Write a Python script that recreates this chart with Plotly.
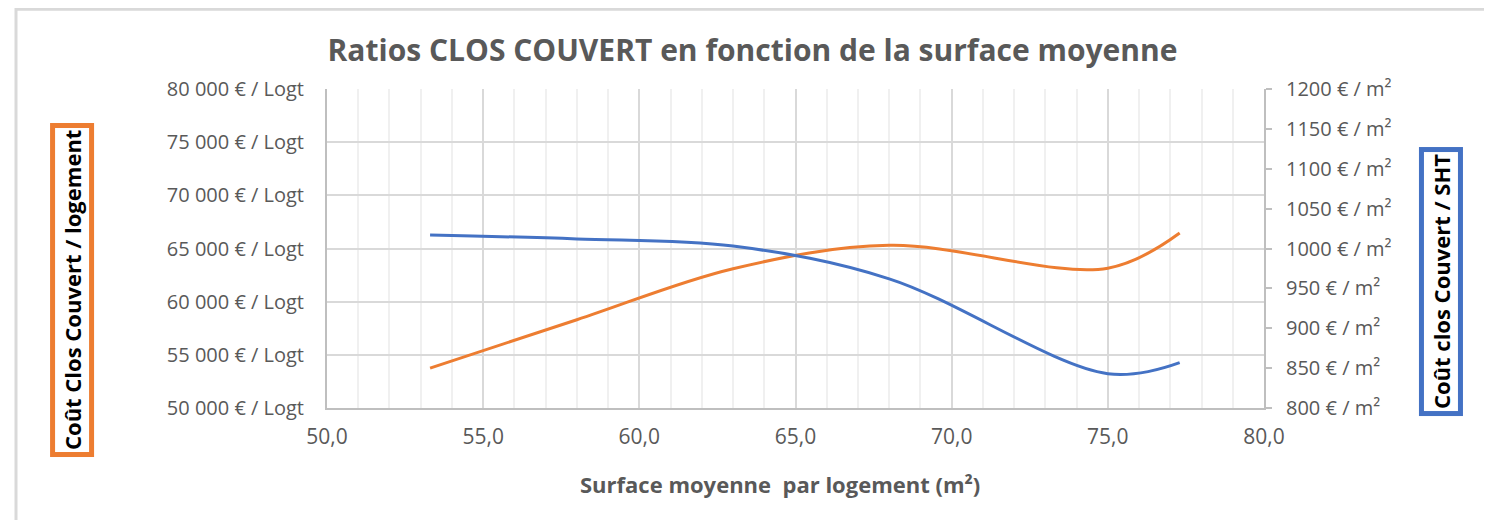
import plotly.graph_objects as go

# Surface moyenne par logement (m²)
surface = [53.3, 58.0, 63.0, 68.0, 75.0, 77.3]
# Coût clos couvert par logement (€ / logt) - axe gauche
cout_logt = [53750, 58300, 63100, 65300, 63150, 66450]
# Coût clos couvert par m² SHT (€ / m²) - axe droit
cout_m2 = [1017, 1012, 1003, 962, 843, 857]

ORANGE = "#ED7D31"
BLUE = "#4472C4"
GREY = "#595959"
GRID = "#D9D9D9"
FONT = "Open Sans"

fig = go.Figure()

fig.add_trace(go.Scatter(
    x=surface, y=cout_logt,
    mode="lines", line=dict(color=ORANGE, width=3, shape="spline", smoothing=1),
    name="Coût Clos Couvert / logement",
))
fig.add_trace(go.Scatter(
    x=surface, y=cout_m2, yaxis="y2",
    mode="lines", line=dict(color=BLUE, width=3, shape="spline", smoothing=1),
    name="Coût clos Couvert / SHT",
))

fig.update_layout(
    width=1492, height=520,
    margin=dict(l=319, r=236, t=81, b=120),
    paper_bgcolor="white", plot_bgcolor="white",
    showlegend=False,
    separators=", ",
    font=dict(family=FONT, color=GREY, size=20),
    title=dict(
        text="<b>Ratios CLOS COUVERT en fonction de la surface moyenne</b>",
        x=0.499, xanchor="center", y=0.919, yanchor="middle",
        font=dict(family=FONT, size=30, color=GREY),
    ),
    xaxis=dict(
        range=[50, 80], dtick=5, tickformat=".1f",
        tickfont=dict(size=21),
        showgrid=True, gridcolor=GRID, gridwidth=2,
        minor=dict(dtick=1, showgrid=True, gridcolor="#F0F0F0", gridwidth=2),
        showline=True, linecolor="#BFBFBF", linewidth=2,
        zeroline=False, ticks="", ticklabelstandoff=9,
    ),
    yaxis=dict(
        range=[50000, 80000], dtick=5000, tickformat=",d",
        ticksuffix=" € / Logt",
        showgrid=True, gridcolor=GRID, gridwidth=2,
        showline=True, linecolor="#BFBFBF", linewidth=2,
        zeroline=False, ticks="", ticklabelstandoff=17,
    ),
    yaxis2=dict(
        range=[800, 1200], dtick=50, tickformat="d",
        ticksuffix=" € / m²",
        overlaying="y", side="right",
        showgrid=False, showline=True, linecolor="#BFBFBF", linewidth=2,
        zeroline=False, ticks="outside", ticklen=6, tickcolor="#BFBFBF", tickwidth=2,
        ticklabelstandoff=10,
    ),
    shapes=[dict(
        type="rect", xref="paper", yref="paper",
        x0=-0.3319, x1=1.2401, y0=-0.5, y1=1.25,
        line=dict(color=GRID, width=3), layer="below",
    )],
    annotations=[
        dict(
            text="<b>Surface moyenne  par logement (m²)</b>",
            xref="paper", yref="paper", x=0.483, y=-0.238,
            xanchor="center", yanchor="middle", showarrow=False,
            font=dict(size=22, color=GREY),
        ),
        dict(
            text="<b>Coût Clos Couvert / logement</b>",
            xref="paper", yref="paper", x=-0.2721, y=0.37,
            xanchor="center", yanchor="middle",
            showarrow=False, textangle=-90,
            font=dict(size=22, color="black"),
            bordercolor=ORANGE, borderwidth=5, borderpad=2, bgcolor="white",
        ),
        dict(
            text="<b>Coût clos Couvert / SHT</b>",
            xref="paper", yref="paper", x=1.1889, y=0.398,
            xanchor="center", yanchor="middle",
            showarrow=False, textangle=-90,
            font=dict(size=22, color="black"),
            bordercolor=BLUE, borderwidth=5, borderpad=2, bgcolor="white",
        ),
    ],
)

fig.write_html("out.html")
